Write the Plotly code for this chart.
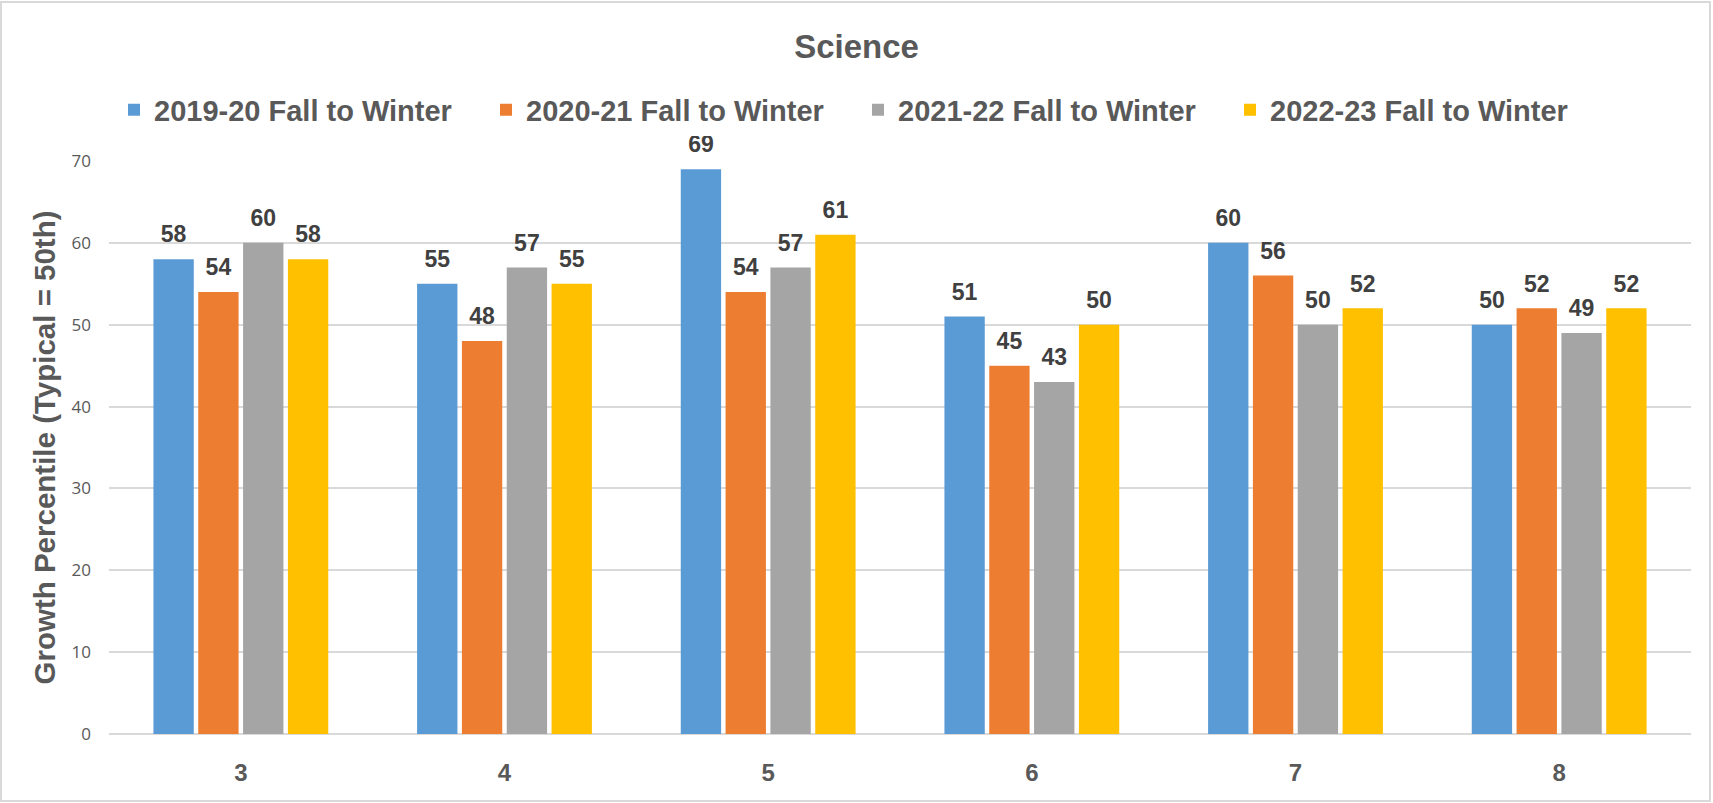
import plotly.graph_objects as go

grades = ["3", "4", "5", "6", "7", "8"]
series_names = ["2019-20 Fall to Winter", "2020-21 Fall to Winter",
                "2021-22 Fall to Winter", "2022-23 Fall to Winter"]
v2019 = [58, 55, 69, 51, 60, 50]
v2020 = [54, 48, 54, 45, 56, 52]
v2021 = [60, 57, 57, 43, 50, 49]
v2022 = [58, 55, 61, 50, 52, 52]
colors = ["#5B9BD5", "#ED7D31", "#A5A5A5", "#FFC000"]

W, H = 1713, 803
ml, mr, mt, mb = 109, 22, 161, 69
FONT = "Liberation Sans, Arial, sans-serif"

fig = go.Figure()
all_vals = [v2019, v2020, v2021, v2022]
for i, (name, vals, c) in enumerate(zip(series_names, all_vals, colors)):
    fig.add_trace(go.Bar(
        x=grades, y=vals, name=name, marker_color=c, marker_line_width=0,
        offsetgroup=str(i), hoverinfo="x+y+name",
    ))
for i, (name, vals) in enumerate(zip(series_names, all_vals)):
    fig.add_trace(go.Scatter(
        x=grades, y=vals, mode="markers+text", offsetgroup=str(i),
        text=[str(v) for v in vals], textposition="top center",
        marker=dict(size=16, color="rgba(0,0,0,0)"),
        textfont=dict(family=FONT, size=23, color="#404040", weight="bold"),
        showlegend=False, hoverinfo="skip", cliponaxis=False,
    ))

pw = W - ml - mr
ph = H - mt - mb
fig.update_layout(
    width=W, height=H,
    margin=dict(l=ml, r=mr, t=mt, b=mb, autoexpand=False),
    paper_bgcolor="white", plot_bgcolor="white",
    barmode="group", bargap=0.32, bargroupgap=0.1,
    scattermode="group", scattergap=0.32,
    title=dict(text="Science", x=0.5, xanchor="center", y=1 - 46 / H, yanchor="middle",
               font=dict(family=FONT, size=33, color="#595959", weight="bold")),
    legend=dict(orientation="h", x=(114 - ml) / pw, xanchor="left", y=1 + (mt - 110) / ph, yanchor="middle",
                font=dict(family=FONT, size=29, color="#595959", weight="bold"),
                itemwidth=30, traceorder="normal", entrywidth=327, entrywidthmode="pixels"),
    showlegend=True,
    yaxis=dict(range=[0, 70], dtick=10, showgrid=True, gridcolor="#D9D9D9", gridwidth=1.5,
               zeroline=True, zerolinecolor="#D9D9D9", zerolinewidth=1.5,
               tickfont=dict(family="Open Sans, sans-serif", size=17, color="#595959"),
               ticks="", ticklabelstandoff=17, automargin=False),
    xaxis=dict(showgrid=False, showline=False, ticks="", automargin=False,
               tickfont=dict(family=FONT, size=24, color="#595959", weight="bold"),
               ticklabelstandoff=22),
)
fig.add_annotation(text="Growth Percentile (Typical = 50th)", textangle=-90,
                   xref="paper", yref="paper", x=(44 - ml) / pw, y=0.5,
                   xanchor="center", yanchor="middle", showarrow=False,
                   font=dict(family=FONT, size=29.5, color="#595959", weight="bold"))
# Outer chart border
fig.add_shape(type="rect", xref="paper", yref="paper",
              x0=(1 - ml) / pw, x1=(W - 3 - ml) / pw,
              y0=-(mb - 2) / ph, y1=1 + (mt - 2) / ph,
              line=dict(color="#D9D9D9", width=2), fillcolor="rgba(0,0,0,0)", layer="below")

fig.write_html("out.html", config={"displayModeBar": False},
               post_script="document.body.style.margin='0';document.body.style.overflow='hidden';")
